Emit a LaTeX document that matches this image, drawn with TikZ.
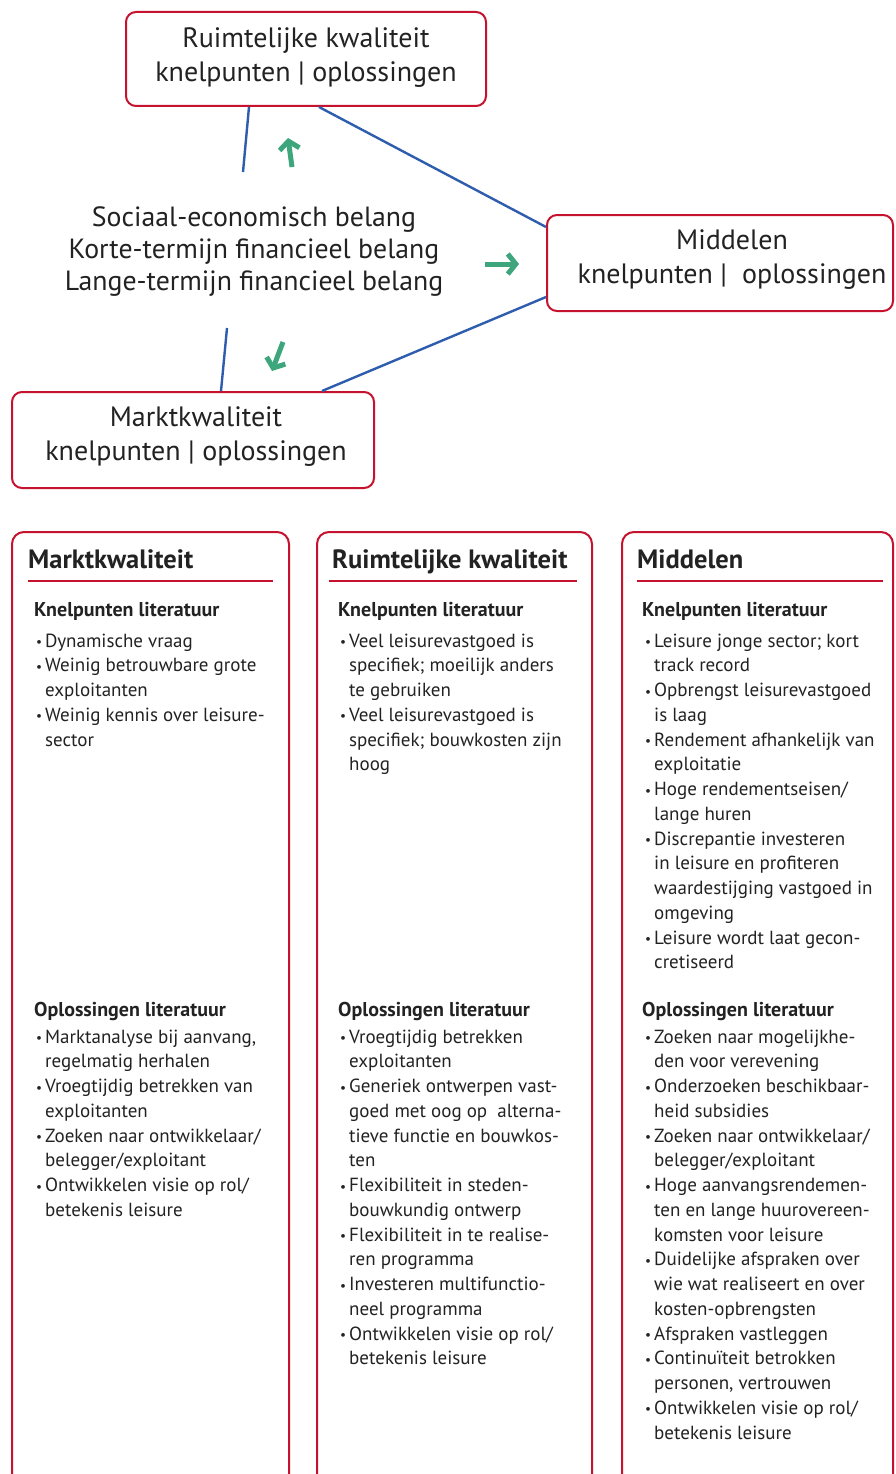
\documentclass[tikz,border=0pt]{standalone}
\usepackage{fontspec}
\usepackage{graphicx}
\setmainfont{PT Sans}
\usetikzlibrary{arrows.meta,calc}
\definecolor{boxred}{HTML}{C4122F}
\definecolor{linkblue}{HTML}{2F5DAE}
\definecolor{arrowgreen}{HTML}{3DA67C}
\definecolor{ink}{HTML}{222222}
% bullet and hanging indent for the column lists
\newcommand\bu{\makebox[9pt][l]{\raisebox{0.5pt}{\scalebox{0.7}{\textbullet}}}}
\newcommand\hg{\hspace*{9pt}}
% one line per node, fixed baseline distance
\newcommand\lineblock[4]{%
  \foreach \ln [count=\k from 0] in {#3} {%
    \node[itemtext] (#4-\k) at (#1,{#2+24.75*\k}) {\ln};}}
\begin{document}
\begin{tikzpicture}[x=1pt,y=-1pt,
  boxframe/.style={draw=boxred, line width=2pt, rounded corners=10pt, fill=white, inner sep=0pt},
  boxtext/.style={align=center, text=ink, font=\fontsize{28}{34}\selectfont, inner sep=0pt},
  link/.style={draw=linkblue, line width=2.4pt},
  flow/.style={draw=arrowgreen, line width=5pt, -{Straight Barb[length=8pt,width=20pt]}},
  column/.style={draw=boxred, line width=2pt, rounded corners=12pt},
  colhead/.style={anchor=base west, font=\bfseries\fontsize{26.5}{30}\selectfont, text=ink, inner sep=0pt},
  rule/.style={draw=boxred, line width=2pt},
  subhead/.style={anchor=base west, font=\bfseries\fontsize{20}{24}\selectfont, text=ink, inner sep=0pt},
  itemtext/.style={anchor=base west, font=\fontsize{19}{22}\selectfont, text=ink, inner sep=0pt},
]
\clip (0,0) rectangle (895,1474);
\fill[white] (0,0) rectangle (895,1474);

% ---- triangle of themes ----
\node[boxframe, minimum width=360pt, minimum height=94pt] (rk) at (306,59) {};
\node[boxtext] (rkt) at (306,58) {Ruimtelijke kwaliteit\\knelpunten | oplossingen};

\node[boxframe, minimum width=346pt, minimum height=96pt] (md) at (720,263) {};
\node[boxtext] (mdt) at (732,260) {Middelen\\knelpunten |\ \ oplossingen};

\node[boxframe, minimum width=362pt, minimum height=96pt] (mk) at (193,440) {};
\node[boxtext] (mkt) at (196,437) {Marktkwaliteit\\knelpunten | oplossingen};

\node[align=center, text=ink, font=\fontsize{27.8}{32}\selectfont, inner sep=0pt] (ctr) at (254,252)
  {Sociaal-economisch belang\\Korte-termijn financieel belang\\Lange-termijn financieel belang};

% blue connectors
\coordinate (rkA) at ($(rk.south west)+(124,0)$);
\coordinate (rkB) at ($(rk.south west)+(194,0)$);
\coordinate (mdA) at ($(md.north west)+(0,13)$);
\coordinate (mdB) at ($(md.south west)+(0,-15)$);
\coordinate (mkA) at ($(mk.north west)+(311,0)$);
\coordinate (mkB) at ($(mk.north west)+(210,0)$);
\coordinate (endUp) at (243,172);
\coordinate (endDown) at (227,328);
\draw[link] (rkA) -- (endUp);
\draw[link] (rkB) -- (mdA);
\draw[link] (mdB) -- (mkA);
\draw[link] (endDown) -- (mkB);

% green direction arrows
\coordinate (upS) at (292,167);   \coordinate (upE) at (288,138);
\coordinate (rtS) at (485,264);   \coordinate (rtE) at (519,264);
\coordinate (dnS) at (283,342);   \coordinate (dnE) at (272,371);
\draw[flow] (upS) -- (upE);
\draw[flow] (rtS) -- (rtE);
\draw[flow] (dnS) -- (dnE);

% ---- three columns ----
\draw[column] (12,1500) -- (12,532) -- (289,532) -- (289,1500);
\draw[column] (317,1500) -- (317,532) -- (592,532) -- (592,1500);
\draw[column] (622,1500) -- (622,532) -- (893,532) -- (893,1500);

\node[colhead] (h1) at (28,568) {Marktkwaliteit};
\node[colhead] (h2) at (332,568) {Ruimtelijke kwaliteit};
\node[colhead] (h3) at (637,568) {Middelen};
\draw[rule] (28,581) -- (273,581);
\draw[rule] (329,581) -- (577,581);
\draw[rule] (637,581) -- (883,581);

\node[subhead] (k1) at (34,616) {Knelpunten literatuur};
\node[subhead] (k2) at (338,616) {Knelpunten literatuur};
\node[subhead] (k3) at (642,616) {Knelpunten literatuur};
\node[subhead] (o1) at (34,1016) {Oplossingen literatuur};
\node[subhead] (o2) at (338,1016) {Oplossingen literatuur};
\node[subhead] (o3) at (642,1016) {Oplossingen literatuur};

% column 1
\lineblock{36}{647}{{\bu Dynamische vraag},{\bu Weinig betrouwbare grote},{\hg exploitanten},
  {\bu Weinig kennis over leisure-},{\hg sector}}{ka}
\lineblock{36}{1043}{{\bu Marktanalyse bij aanvang,},{\hg regelmatig herhalen},
  {\bu Vroegtijdig betrekken van},{\hg exploitanten},
  {\bu Zoeken naar ontwikkelaar/},{\hg belegger/exploitant},
  {\bu Ontwikkelen visie op rol/},{\hg betekenis leisure}}{oa}

% column 2
\lineblock{340}{647}{{\bu Veel leisurevastgoed is},{\hg specifiek; moeilijk anders},{\hg te gebruiken},
  {\bu Veel leisurevastgoed is},{\hg specifiek; bouwkosten zijn},{\hg hoog}}{kb}
\lineblock{340}{1043}{{\bu Vroegtijdig betrekken},{\hg exploitanten},
  {\bu Generiek ontwerpen vast-},{\hg goed met oog op\ \ alterna-},{\hg tieve functie en bouwkos-},{\hg ten},
  {\bu Flexibiliteit in steden-},{\hg bouwkundig ontwerp},
  {\bu Flexibiliteit in te realise-},{\hg ren programma},
  {\bu Investeren multifunctio-},{\hg neel programma},
  {\bu Ontwikkelen visie op rol/},{\hg betekenis leisure}}{ob}

% column 3
\lineblock{645}{647}{{\bu Leisure jonge sector; kort},{\hg track record},
  {\bu Opbrengst leisurevastgoed},{\hg is laag},
  {\bu Rendement afhankelijk van},{\hg exploitatie},
  {\bu Hoge rendementseisen/},{\hg lange huren},
  {\bu Discrepantie investeren},{\hg in leisure en profiteren},{\hg waardestijging vastgoed in},{\hg omgeving},
  {\bu Leisure wordt laat gecon-},{\hg cretiseerd}}{kc}
\lineblock{645}{1043}{{\bu Zoeken naar mogelijkhe-},{\hg den voor verevening},
  {\bu Onderzoeken beschikbaar-},{\hg heid subsidies},
  {\bu Zoeken naar ontwikkelaar/},{\hg belegger/exploitant},
  {\bu Hoge aanvangsrendemen-},{\hg ten en lange huurovereen-},{\hg komsten voor leisure},
  {\bu Duidelijke afspraken over},{\hg wie wat realiseert en over},{\hg kosten-opbrengsten},
  {\bu Afspraken vastleggen},
  {\bu Continuïteit betrokken},{\hg personen, vertrouwen},
  {\bu Ontwikkelen visie op rol/},{\hg betekenis leisure}}{oc}
\end{tikzpicture}
\end{document}
